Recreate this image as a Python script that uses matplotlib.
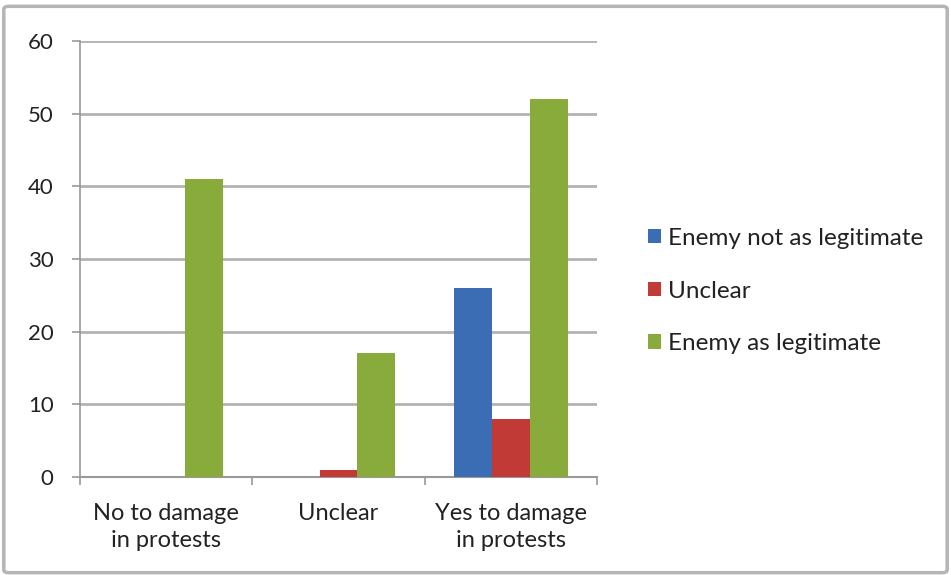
import matplotlib
matplotlib.use("Agg")
import matplotlib.pyplot as plt
import numpy as np
from matplotlib.patches import FancyBboxPatch

categories = ["No to damage\nin protests", "Unclear", "Yes to damage\nin protests"]
series_names = ["Enemy not as legitimate", "Unclear", "Enemy as legitimate"]
not_legit = [0, 0, 26]
unclear = [0, 1, 8]
legit = [41, 17, 52]
colors = ["#3a6db4", "#c23a35", "#88ab3c"]
yticks = [0, 10, 20, 30, 40, 50, 60]

plt.rcParams['font.family'] = ['Lato', 'DejaVu Sans']

fig = plt.figure(figsize=(9.51, 5.75), dpi=100)
ax = fig.add_axes([80/951, 98/575, 517/951, 436/575])

x = np.arange(len(categories))
w = 0.22
for i, (vals, name, c) in enumerate(zip([not_legit, unclear, legit], series_names, colors)):
    ax.bar(x + (i - 1) * w, vals, width=w, color=c, label=name, zorder=3)

ax.set_xlim(-0.5, 2.5)
ax.set_ylim(0, 60)
ax.set_yticks(yticks)
ax.yaxis.grid(True, color="#b3b3b3", linewidth=2, zorder=0)
ax.set_xticks(x)
ax.set_xticklabels(categories, fontsize=17, color="#222222", linespacing=1.35)
ax.set_xticks([-0.5, 0.5, 1.5, 2.5], minor=True)
ax.tick_params(axis="x", which="major", length=0, pad=19)
ax.tick_params(axis="x", which="minor", length=6, color="#999999", width=1.2)
ax.tick_params(axis="y", length=6, color="#999999", width=1.2, labelsize=16, labelcolor="#222222", pad=13)
for s in ["top", "right"]:
    ax.spines[s].set_visible(False)
ax.spines["left"].set_color("#999999")
ax.spines["bottom"].set_color("#999999")
ax.spines["left"].set_linewidth(1.2)
ax.spines["bottom"].set_linewidth(1.5)

leg = fig.legend(loc="center left", bbox_to_anchor=(648/951, 1 - 291/575), frameon=False,
                 fontsize=17.5, handlelength=0.53, handleheight=0.53, handletextpad=0.3,
                 labelspacing=1.3, borderaxespad=0, borderpad=0)
for t in leg.get_texts():
    t.set_color("#222222")

border = FancyBboxPatch((0.004, 0.004), 0.992, 0.985, boxstyle="round,pad=0,rounding_size=0.005",
                        transform=fig.transFigure, fill=False, edgecolor="#b5b5b5", linewidth=2.5)
fig.patches.append(border)

fig.savefig("out.png", dpi=100)
